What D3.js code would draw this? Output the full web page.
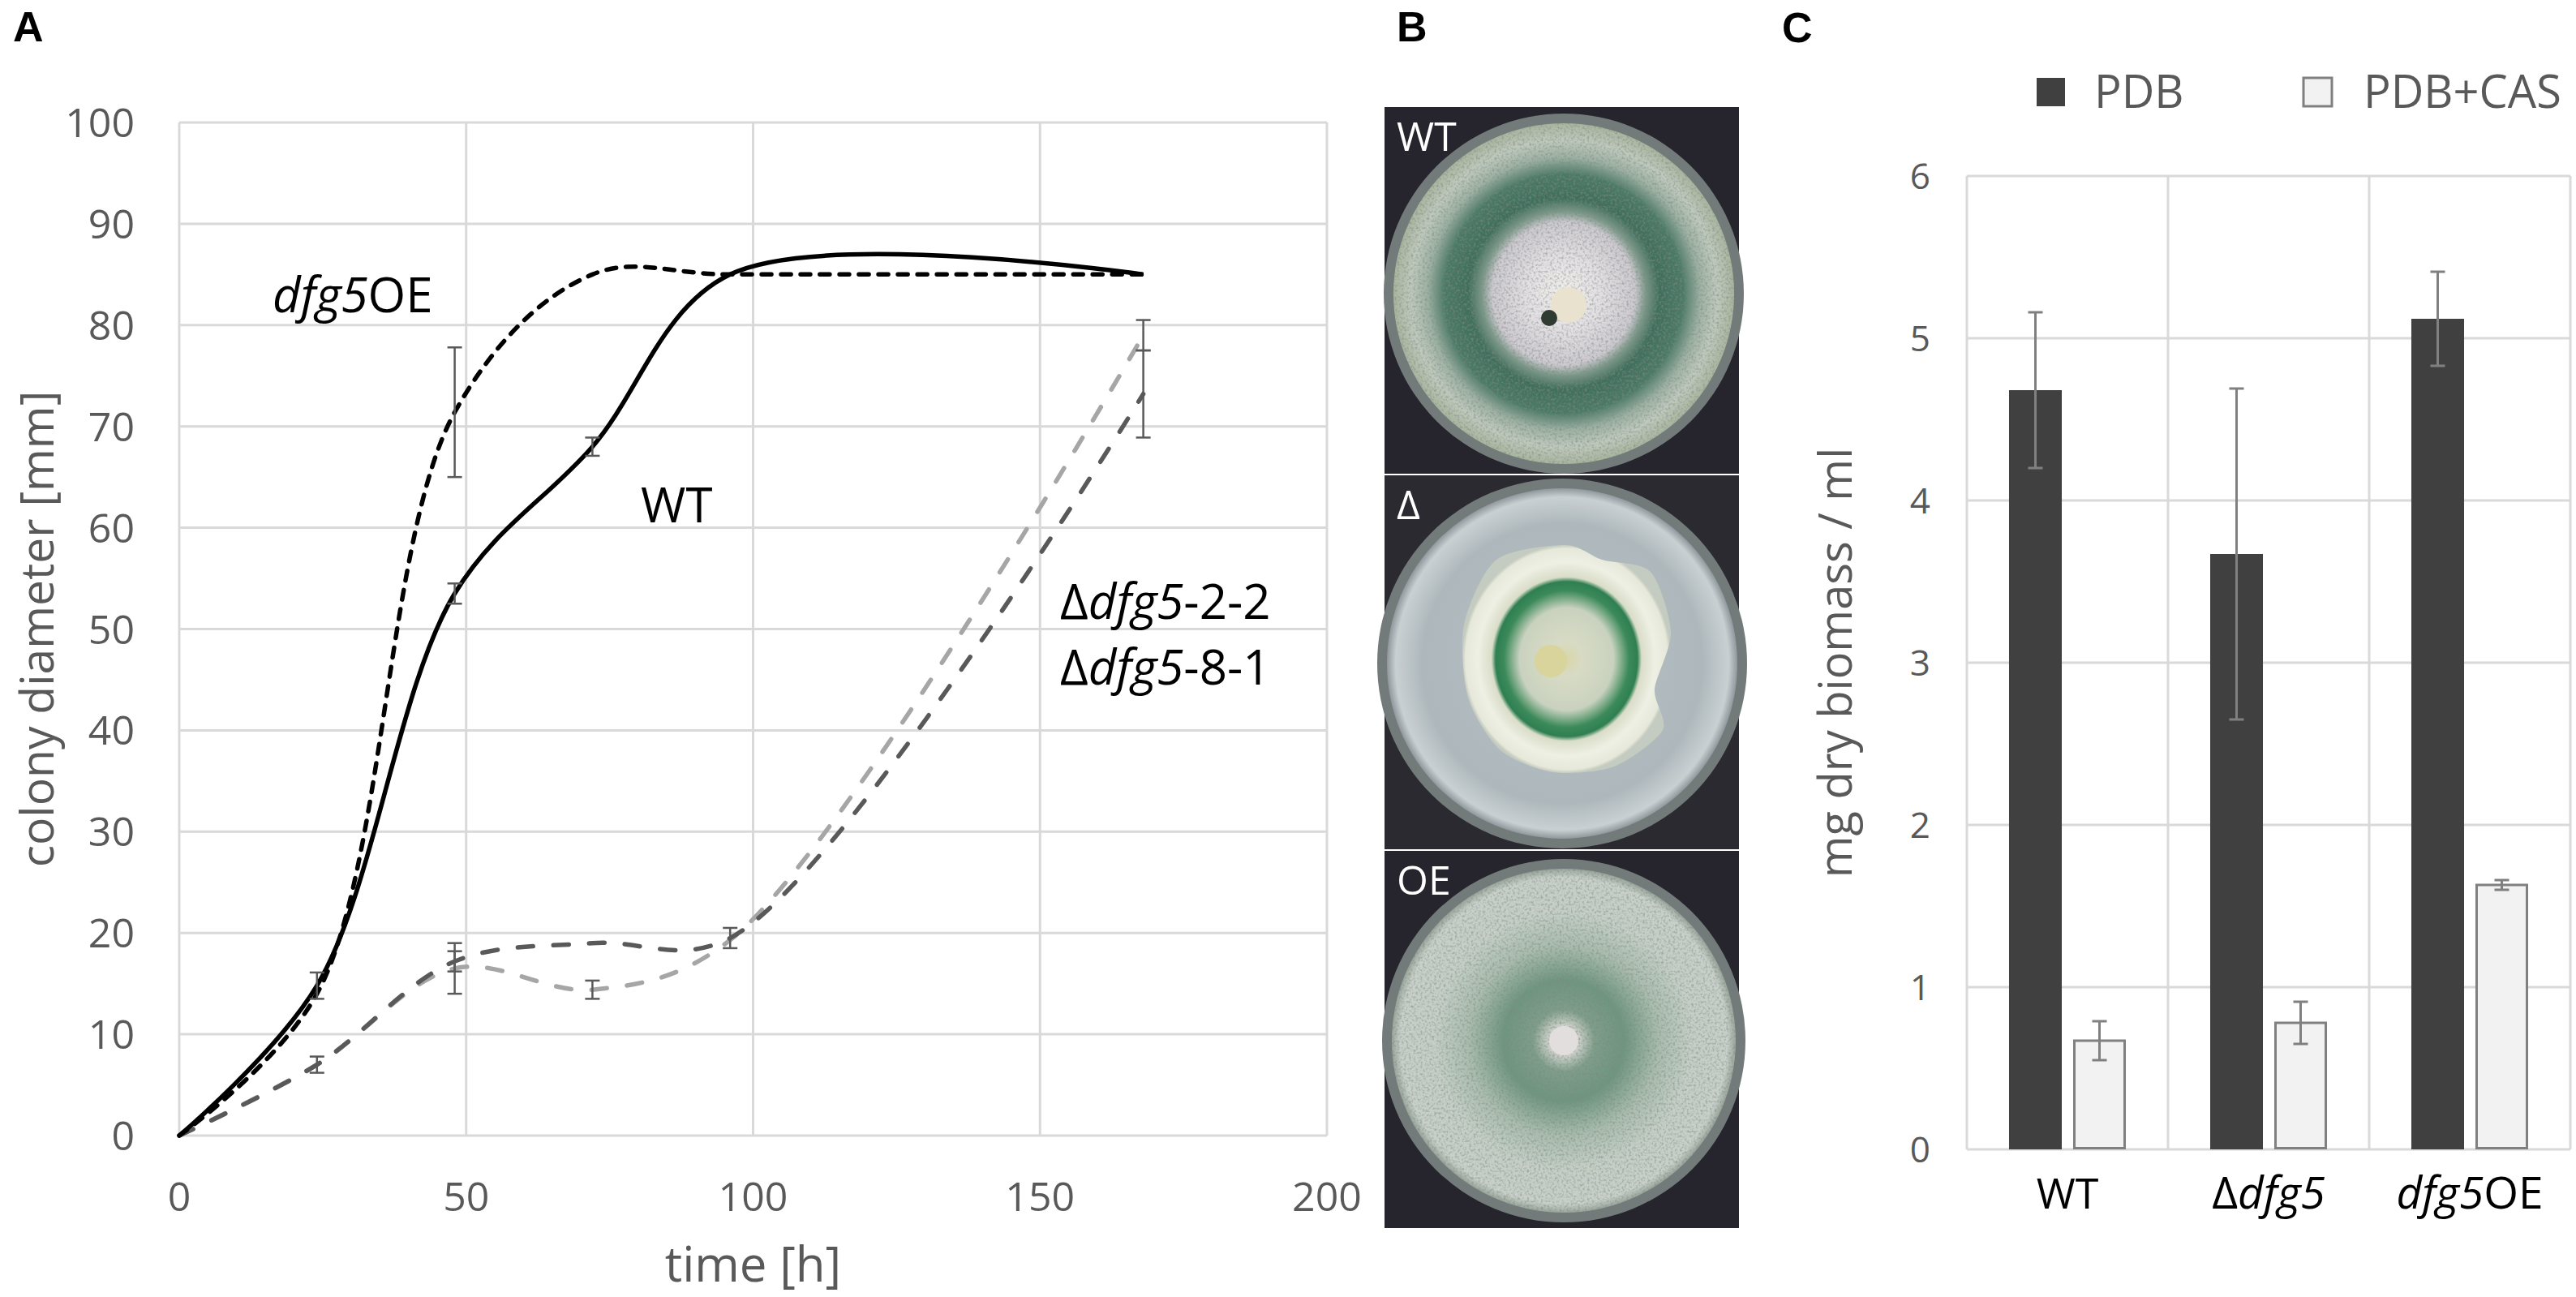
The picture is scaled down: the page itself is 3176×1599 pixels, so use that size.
<!DOCTYPE html>
<html><head><meta charset="utf-8">
<script src="https://cdn.jsdelivr.net/npm/d3@7"></script>
<style>html,body{margin:0;padding:0;background:#fff;}svg{display:block;}</style>
</head><body>
<script>
// ---------- DATA ----------
// Panel A: colony diameter [mm] over time [h]
const timeH   = [0, 24, 48, 72, 96, 168];
const wt      = [0, 14.8, 53.5, 68, 85, 85];
const wtErr   = [0, 1.3, 1.0, 0.9, 0, 0];
const oe      = [0, 14, 71.4, 85, 85, 85];
const oeErr   = [0, 0, 6.4, 0, 0, 0];
const d22     = [0, 7, 16.5, 14.4, 19.3, 79];
const d22Err  = [0, 0.8, 2.5, 0.9, 0, 1.5];
const d81     = [0, 7, 17.2, 19, 19.5, 73.2];
const d81Err  = [0, 0, 1.0, 0, 1.0, 4.3];
const xTicksA = [0, 50, 100, 150, 200];
const yTicksA = [0, 10, 20, 30, 40, 50, 60, 70, 80, 90, 100];
// Panel C: mg dry biomass / ml
const strains = ["WT", "Δdfg5", "dfg5OE"];
const media   = ["PDB", "PDB+CAS"];
const pdb     = [4.68, 3.67, 5.12];
const pdbErr  = [0.48, 1.02, 0.29];
const cas     = [0.67, 0.78, 1.63];
const casErr  = [0.12, 0.13, 0.03];
const yTicksC = [0, 1, 2, 3, 4, 5, 6];

const W = 3176, H = 1599;
const FONT = "'Open Sans', 'Noto Sans', sans-serif";
const svg = d3.select("body").append("svg").attr("width", W).attr("height", H)
  .style("font-family", FONT);
const defs = svg.append("defs");

// panel letters
[["A",16,51],["B",1722,51],["C",2197,52]].forEach(([t,x,y]) =>
  svg.append("text").attr("x",x).attr("y",y).text(t)
    .attr("font-family","'Liberation Sans', Arial, sans-serif")
    .attr("font-weight","bold").attr("font-size",52).attr("fill","#000"));

// ---------- PANEL A ----------
const xA = d3.scaleLinear().domain([0,200]).range([221,1636]);
const yA = d3.scaleLinear().domain([0,100]).range([1400,151]);
const gA = svg.append("g");
gA.append("g").selectAll("line").data(yTicksA).join("line")
  .attr("x1",xA(0)).attr("x2",xA(200)).attr("y1",d=>yA(d)).attr("y2",d=>yA(d))
  .attr("stroke","#d9d9d9").attr("stroke-width",3);
gA.append("g").selectAll("line").data(xTicksA).join("line")
  .attr("y1",yA(0)).attr("y2",yA(100)).attr("x1",d=>xA(d)).attr("x2",d=>xA(d))
  .attr("stroke","#d9d9d9").attr("stroke-width",3);
gA.append("g").selectAll("text").data(yTicksA).join("text")
  .attr("x",166).attr("y",d=>yA(d)+18).attr("text-anchor","end")
  .attr("font-size",50).attr("fill","#595959").text(d=>d);
gA.append("g").selectAll("text").data(xTicksA).join("text")
  .attr("x",d=>xA(d)).attr("y",1493).attr("text-anchor","middle")
  .attr("font-size",50).attr("fill","#595959").text(d=>d);
gA.append("text").attr("x",(xA(0)+xA(200))/2).attr("y",1580).attr("text-anchor","middle")
  .attr("font-size",60).attr("fill","#595959").text("time [h]");
gA.append("text").attr("transform",`translate(66,${(yA(0)+yA(100))/2}) rotate(-90)`)
  .attr("text-anchor","middle").attr("font-size",57).attr("fill","#595959")
  .text("colony diameter [mm]");

const lineA = d3.line().x(d=>xA(d[0])).y(d=>yA(d[1])).curve(d3.curveCatmullRom.alpha(0.5));
const series = [
  {v:d22, e:d22Err, color:"#a6a6a6", dash:"19,25"},
  {v:d81, e:d81Err, color:"#595959", dash:"19,25"},
  {v:oe,  e:oeErr,  color:"#000",    dash:"12,12"},
  {v:wt,  e:wtErr,  color:"#000",    dash:null}
];
series.forEach(s => {
  gA.append("path").datum(timeH.map((t,i)=>[t,s.v[i]]))
    .attr("d",lineA).attr("fill","none").attr("stroke",s.color)
    .attr("stroke-width",5.5).attr("stroke-linecap", s.dash ? "round" : "butt")
    .attr("stroke-dasharray", s.dash);
});
const ebA = gA.append("g").attr("stroke","#595959").attr("stroke-width",2.5);
series.forEach(s => {
  timeH.forEach((t,i) => {
    if (!s.e[i]) return;
    const x = xA(t), y1 = yA(s.v[i]-s.e[i]), y2 = yA(s.v[i]+s.e[i]);
    ebA.append("line").attr("x1",x).attr("x2",x).attr("y1",y1).attr("y2",y2);
    ebA.append("line").attr("x1",x-9).attr("x2",x+9).attr("y1",y1).attr("y2",y1);
    ebA.append("line").attr("x1",x-9).attr("x2",x+9).attr("y1",y2).attr("y2",y2);
  });
});
// in-plot labels
function richLabel(g, x, y, parts, size, anchor){
  const t = g.append("text").attr("x",x).attr("y",y).attr("font-size",size)
    .attr("fill","#000").attr("text-anchor",anchor||"start");
  parts.forEach(([txt,it]) => t.append("tspan").text(txt).attr("font-style", it?"italic":"normal"));
  return t;
}
richLabel(gA, 336, 385, [["dfg5",1],["OE",0]], 60);
richLabel(gA, 790, 644, [["WT",0]], 60);
richLabel(gA, 1307, 763, [["Δ",0],["dfg5",1],["-2-2",0]], 60);
richLabel(gA, 1307, 844, [["Δ",0],["dfg5",1],["-8-1",0]], 60);

// ---------- PANEL B (photographs, drawn as illustrations) ----------
const gB = svg.append("g");
const turb = defs.append("filter").attr("id","speckle").attr("x","0").attr("y","0").attr("width","1").attr("height","1");
turb.append("feTurbulence").attr("type","fractalNoise").attr("baseFrequency","0.35").attr("numOctaves",2).attr("seed",3).attr("result","n");
turb.append("feColorMatrix").attr("in","n").attr("type","matrix")
  .attr("values","0 0 0 0 0.2  0 0 0 0 0.25  0 0 0 0 0.22  0 0 0 -1.6 0.9").attr("result","m");
turb.append("feComposite").attr("in","m").attr("in2","SourceGraphic").attr("operator","in").attr("result","c");
turb.append("feMerge").call(m=>{m.append("feMergeNode").attr("in","SourceGraphic");m.append("feMergeNode").attr("in","c");});

function radial(id, stops){
  const g = defs.append("radialGradient").attr("id",id);
  stops.forEach(([o,c]) => g.append("stop").attr("offset",o).attr("stop-color",c));
}
radial("gWT",[[0,"#f4f3f2"],[0.07,"#ece9e8"],[0.22,"#e3e0e4"],[0.42,"#ccc9cf"],[0.48,"#7e9a8b"],[0.56,"#3f6f5c"],[0.7,"#4a7a66"],[0.8,"#9db1a3"],[0.9,"#bfc9bd"],[1,"#a9b69f"]]);
radial("gDA",[[0,"#b7bfc2"],[0.8,"#aeb8bc"],[0.95,"#c9d0d2"],[1,"#8f989c"]]);
radial("gDC",[[0,"#d9d6a8"],[0.15,"#d8dbc4"],[0.45,"#c9d2bf"],[0.6,"#3c8a5a"],[0.68,"#2f7f52"],[0.72,"#d9ddc8"],[0.85,"#eef0e4"],[0.97,"#e6e8da"],[1,"#c4cbc0"]]);
radial("gOE",[[0,"#e8e6e4"],[0.08,"#d4d6d0"],[0.18,"#7f9e8a"],[0.35,"#6e9580"],[0.55,"#a9bcae"],[0.75,"#c5cfc6"],[0.95,"#c8d0c9"],[1,"#9aa69c"]]);

const bx0 = 1707, bx1 = 2144;
const subs = [
  {y0:132, y1:584, label:"WT", ly:186, grad:"gWT", cx:1928, cy:362, r:222},
  {y0:586, y1:1047, label:"Δ", ly:640, grad:"gDA", cx:1926, cy:818, r:228},
  {y0:1049, y1:1514, label:"OE", ly:1103, grad:"gOE", cx:1928, cy:1283, r:224}
];
subs.forEach((s,i) => {
  gB.append("rect").attr("x",bx0).attr("y",s.y0).attr("width",bx1-bx0).attr("height",s.y1-s.y0)
    .attr("fill", i===1 ? "#2b2a30" : "#26252d");
  gB.append("circle").attr("cx",s.cx).attr("cy",s.cy).attr("r",s.r).attr("fill","#737b7a");
  gB.append("circle").attr("cx",s.cx).attr("cy",s.cy).attr("r",s.r-12)
    .attr("fill",`url(#${s.grad})`).attr("filter", i===1 ? null : "url(#speckle)");
  if (i===0) {
    gB.append("circle").attr("cx",s.cx+6).attr("cy",s.cy+14).attr("r",22).attr("fill","#e9e2cf");
    gB.append("circle").attr("cx",s.cx-18).attr("cy",s.cy+30).attr("r",10).attr("fill","#2f3a30");
  }
  if (i===1) {
    gB.append("path")
      .attr("d", d3.line().curve(d3.curveCardinalClosed.tension(0.2))([
        [1845,690],[1930,672],[1975,690],[2035,705],[2060,780],[2040,850],[2050,900],[1990,945],[1915,952],[1850,925],[1810,860],[1805,770]
      ]))
      .attr("fill","url(#gDC)");
    gB.append("circle").attr("cx",1912).attr("cy",815).attr("r",20).attr("fill","#d8d49c");
  }
  if (i===2) gB.append("circle").attr("cx",s.cx).attr("cy",s.cy).attr("r",18).attr("fill","#e3dede");
  gB.append("text").attr("x",bx0+15).attr("y",s.ly).attr("font-size",50).attr("fill","#fff").text(s.label);
});

// ---------- PANEL C ----------
const xC = d3.scaleBand().domain(strains).range([2425,3169]).padding(0);
const xInner = d3.scaleBand().domain(media).range([0,xC.bandwidth()]).paddingInner(0.177).paddingOuter(0.658);
const yC = d3.scaleLinear().domain([0,6]).range([1417,217]);
const gC = svg.append("g");
gC.append("g").selectAll("line").data(yTicksC).join("line")
  .attr("x1",xC.range()[0]).attr("x2",xC.range()[1]).attr("y1",d=>yC(d)).attr("y2",d=>yC(d))
  .attr("stroke","#d9d9d9").attr("stroke-width",3);
const vlines = strains.map(s=>xC(s)).concat([xC.range()[1]]);
gC.append("g").selectAll("line").data(vlines).join("line")
  .attr("x1",d=>d).attr("x2",d=>d).attr("y1",yC(0)).attr("y2",yC(6))
  .attr("stroke","#d9d9d9").attr("stroke-width",3);
gC.append("g").selectAll("text").data(yTicksC).join("text")
  .attr("x",2380).attr("y",d=>yC(d)+16).attr("text-anchor","end")
  .attr("font-size",44).attr("fill","#595959").text(d=>d);
gC.append("text").attr("transform",`translate(2283,${(yC(0)+yC(6))/2}) rotate(-90)`)
  .attr("text-anchor","middle").attr("font-size",56).attr("fill","#595959")
  .text("mg dry biomass / ml");

const barData = [];
strains.forEach((s,i) => {
  barData.push({s, m:"PDB", v:pdb[i], e:pdbErr[i]});
  barData.push({s, m:"PDB+CAS", v:cas[i], e:casErr[i]});
});
gC.append("g").selectAll("rect").data(barData).join("rect")
  .attr("x",d=>xC(d.s)+xInner(d.m) + (d.m==="PDB"?0:1.5))
  .attr("width",d=>xInner.bandwidth() - (d.m==="PDB"?0:3))
  .attr("y",d=>yC(d.v)).attr("height",d=>yC(0)-yC(d.v) - (d.m==="PDB"?0:1.5))
  .attr("fill",d=>d.m==="PDB"?"#404040":"#f2f2f2")
  .attr("stroke",d=>d.m==="PDB"?"none":"#808080").attr("stroke-width",3);
const ebC = gC.append("g").attr("stroke","#808080").attr("stroke-width",3);
barData.forEach(d => {
  const x = xC(d.s)+xInner(d.m)+xInner.bandwidth()/2;
  const y1 = yC(d.v-d.e), y2 = yC(d.v+d.e);
  ebC.append("line").attr("x1",x).attr("x2",x).attr("y1",y1).attr("y2",y2);
  ebC.append("line").attr("x1",x-9).attr("x2",x+9).attr("y1",y1).attr("y2",y1);
  ebC.append("line").attr("x1",x-9).attr("x2",x+9).attr("y1",y2).attr("y2",y2);
});
// category labels
const catParts = {"WT":[["WT",0]], "Δdfg5":[["Δ",0],["dfg5",1]], "dfg5OE":[["dfg5",1],["OE",0]]};
strains.forEach(s => richLabel(gC, xC(s)+xC.bandwidth()/2, 1490, catParts[s], s==="WT"?52:55, "middle"));
// legend
const leg = [{m:"PDB", x:2511, tx:2582}, {m:"PDB+CAS", x:2840, tx:2914}];
leg.forEach(l => {
  gC.append("rect").attr("x",l.x).attr("y",96).attr("width",35).attr("height",35)
    .attr("fill",l.m==="PDB"?"#404040":"#f2f2f2")
    .attr("stroke",l.m==="PDB"?"none":"#808080").attr("stroke-width",3);
  gC.append("text").attr("x",l.tx).attr("y",133).attr("font-size",56).attr("fill","#595959").text(l.m);
});
</script>
</body></html>
